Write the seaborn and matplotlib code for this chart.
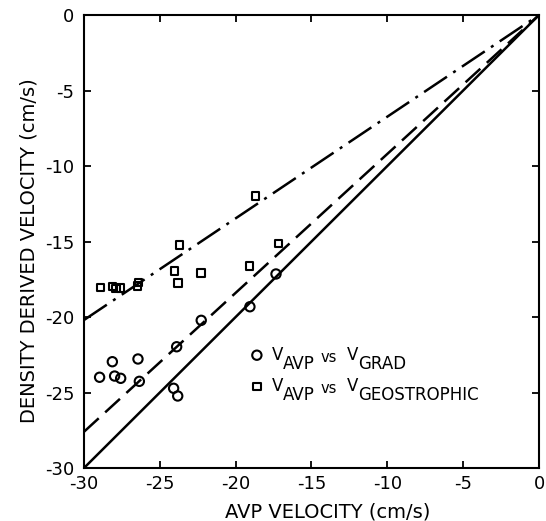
import matplotlib
matplotlib.use("Agg")
import matplotlib.pyplot as plt
import seaborn as sns

# Data
grad_avp = [-28.13, -26.44, -28.97, -27.98, -27.58, -26.35, -23.89, -22.27, -24.09, -23.82, -17.34, -19.06]
grad_den = [-22.96, -22.78, -23.99, -23.91, -24.06, -24.26, -21.97, -20.22, -24.72, -25.23, -17.15, -19.32]

geo_avp = [-28.90, -28.13, -27.89, -27.58, -26.39, -26.46, -24.03, -23.80, -22.29, -23.72, -18.68, -19.10, -17.19]
geo_den = [-18.06, -18.00, -18.10, -18.07, -17.70, -17.95, -16.95, -17.75, -17.09, -15.23, -11.99, -16.62, -15.12]

line_x = [-30, 0]
one_to_one_y = [-30, 0]
grad_fit_y = [-27.6, 0]
geo_fit_y = [-20.2, 0]

ticks = [-30, -25, -20, -15, -10, -5, 0]

# legend text pieces
legend_rows = [
    ("V", "AVP", "vs", "V", "GRAD"),
    ("V", "AVP", "vs", "V", "GEOSTROPHIC"),
]

sns.set_style("ticks")
plt.rcParams['font.family'] = ['DejaVu Sans']
plt.rcParams['axes.unicode_minus'] = False
for k in ['text.color', 'axes.labelcolor', 'xtick.color', 'ytick.color', 'axes.edgecolor']:
    plt.rcParams[k] = 'black'

fig = plt.figure(figsize=(5.46, 5.21), dpi=100)
ax = fig.add_axes([0.1538, 0.1017, 0.8334, 0.8695])

sns.lineplot(x=line_x, y=one_to_one_y, ax=ax, color='black', lw=1.8)
sns.lineplot(x=line_x, y=grad_fit_y, ax=ax, color='black', lw=1.8).lines[-1].set_dashes([8, 3.5])
sns.lineplot(x=line_x, y=geo_fit_y, ax=ax, color='black', lw=1.8).lines[-1].set_dashes([11, 3, 1.2, 3])

sns.scatterplot(x=grad_avp, y=grad_den, ax=ax, marker='o', s=45, facecolor='none',
                edgecolor='black', linewidth=1.5, label=legend_rows[0][0])
sns.scatterplot(x=geo_avp, y=geo_den, ax=ax, marker='s', s=28, facecolor='none',
                edgecolor='black', linewidth=1.5, label=legend_rows[1][0])

ax.set_xlim(-30, 0)
ax.set_ylim(-30, 0)
ax.set_xticks(ticks)
ax.set_yticks(ticks)
ax.tick_params(direction='in', top=True, right=True, length=5, width=1.3, labelsize=13)
ax.tick_params(axis='x', pad=5)
ax.tick_params(axis='y', pad=7)
for s in ax.spines.values():
    s.set_linewidth(1.5)
    s.set_visible(True)
ax.set_xlabel('AVP VELOCITY (cm/s)', fontsize=14)
ax.set_ylabel('DENSITY DERIVED VELOCITY (cm/s)', fontsize=14)
ax.xaxis.set_label_coords(0.536, -0.077)
ax.yaxis.set_label_coords(-0.101, 0.479)

leg = ax.legend(frameon=False, loc='upper left', bbox_to_anchor=(0.347, 0.285),
                fontsize=12, handletextpad=0.4, labelspacing=0.8, handlelength=1.0,
                borderaxespad=0, borderpad=0.4)
leg.set_zorder(5)

# build the subscripted legend labels, chained after each legend "V"
for txt, (v1, s1, vs, v2, s2) in zip(leg.get_texts(), legend_rows):
    a = ax.annotate(s1, xy=(1, 0), xycoords=txt, xytext=(0, -9), textcoords='offset pixels',
                    ha='left', va='bottom', fontsize=12, zorder=10)
    b = ax.annotate(vs, xy=(1, 0), xycoords=a, xytext=(5, 8), textcoords='offset pixels',
                    ha='left', va='bottom', fontsize=10.5, zorder=11)
    c = ax.annotate(v2, xy=(1, 0), xycoords=b, xytext=(10, 1), textcoords='offset pixels',
                    ha='left', va='bottom', fontsize=12, zorder=12)
    ax.annotate(s2, xy=(1, 0), xycoords=c, xytext=(0, -9), textcoords='offset pixels',
                ha='left', va='bottom', fontsize=12, zorder=13)

fig.savefig('out.png', dpi=100)
